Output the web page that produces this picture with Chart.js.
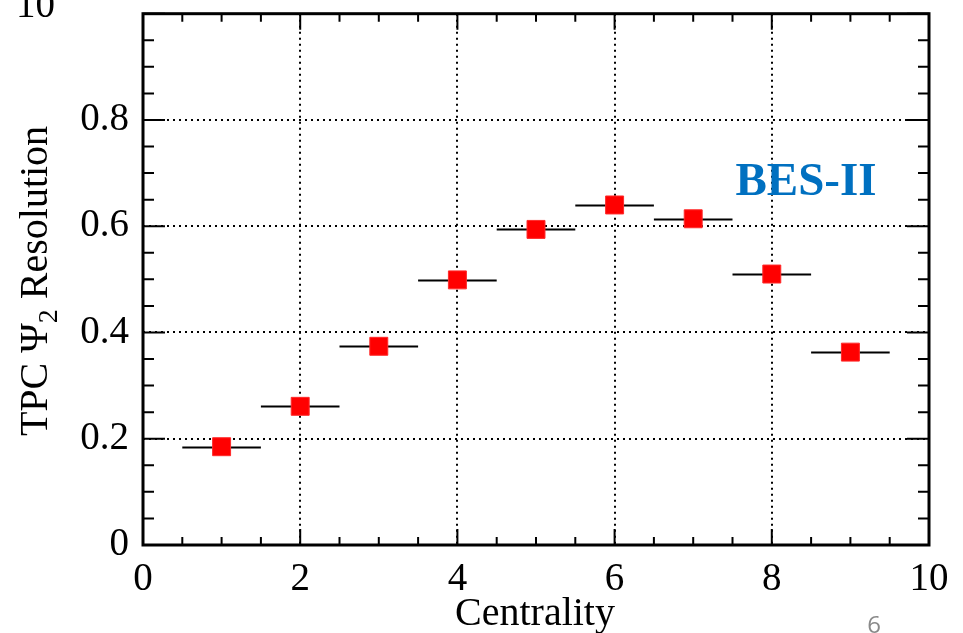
<!DOCTYPE html>
<html>
<head>
<meta charset="utf-8">
<script src="https://cdn.jsdelivr.net/npm/chart.js@4"></script>
<style>
  html, body { margin: 0; padding: 0; background: #fff; }
  #wrap { width: 963px; height: 633px; position: relative; }
</style>
</head>
<body>
<div id="wrap"><canvas id="c" width="963" height="633"></canvas></div>
<script>
// centrality bins and TPC Psi_2 resolution
const centrality = [1, 2, 3, 4, 5, 6, 7, 8, 9];
const resolution = [0.185, 0.261, 0.374, 0.499, 0.594, 0.640, 0.614, 0.510, 0.363];
const binHalfWidth = [0.5, 0.5, 0.5, 0.5, 0.5, 0.5, 0.5, 0.5, 0.5];
const xTicks = [0, 2, 4, 6, 8, 10];
const yTicks = [0, 0.2, 0.4, 0.6, 0.8];

const serif = '"Liberation Serif", "DejaVu Serif", serif';

// ROOT style frame: ticks on all sides, dotted grid, error bars, extra texts
const rootFrame = {
  id: 'rootFrame',
  beforeDatasetsDraw(chart) {
    const { ctx, chartArea: a, scales: { x, y } } = chart;
    ctx.save();
    // dotted grid
    ctx.strokeStyle = '#000';
    ctx.lineWidth = 2;
    ctx.setLineDash([2, 4]);
    ctx.beginPath();
    for (const v of [2, 4, 6, 8]) {
      const px = Math.round(x.getPixelForValue(v));
      ctx.moveTo(px, a.top); ctx.lineTo(px, a.bottom);
    }
    for (const v of [0.2, 0.4, 0.6, 0.8]) {
      const py = Math.round(y.getPixelForValue(v));
      ctx.moveTo(a.left, py); ctx.lineTo(a.right, py);
    }
    ctx.stroke();
    ctx.setLineDash([]);

    // x ticks (bottom and top)
    ctx.lineWidth = 2;
    ctx.beginPath();
    for (let i = 0; i <= 20; i++) {
      const v = i * 0.5;
      const px = x.getPixelForValue(v);
      const len = (i % 4 === 0) ? 16 : 8;
      ctx.moveTo(px, a.bottom); ctx.lineTo(px, a.bottom - len);
      ctx.moveTo(px, a.top); ctx.lineTo(px, a.top + len);
    }
    // y ticks (left and right)
    for (let i = 0; i <= 20; i++) {
      const v = i * 0.05;
      const py = y.getPixelForValue(v);
      const len = (i % 4 === 0) ? 22 : 11;
      ctx.moveTo(a.left, py); ctx.lineTo(a.left + len, py);
      ctx.moveTo(a.right, py); ctx.lineTo(a.right - len, py);
    }
    ctx.stroke();

    // horizontal error bars
    ctx.lineWidth = 2;
    ctx.beginPath();
    centrality.forEach((c, i) => {
      const py = Math.round(y.getPixelForValue(resolution[i])) + 0.5;
      ctx.moveTo(x.getPixelForValue(c - binHalfWidth[i]), py);
      ctx.lineTo(x.getPixelForValue(c + binHalfWidth[i]), py);
    });
    ctx.stroke();

    // frame
    ctx.lineWidth = 3;
    ctx.strokeRect(a.left, a.top, a.right - a.left, a.bottom - a.top);
    ctx.restore();
  },
  afterDraw(chart) {
    const { ctx } = chart;
    ctx.save();
    // cut-off top label
    ctx.fillStyle = '#000';
    ctx.font = '39px ' + serif;
    ctx.textAlign = 'left';
    ctx.textBaseline = 'alphabetic';
    ctx.fillText('10', 16, 17);

    // y axis title with subscript
    ctx.translate(47, 281);
    ctx.rotate(-Math.PI / 2);
    const p1 = 'TPC \u03A8', p2 = ' Resolution';
    ctx.font = '40px ' + serif;
    const w1 = ctx.measureText(p1).width;
    const w3 = ctx.measureText(p2).width;
    ctx.font = '28px ' + serif;
    const w2 = ctx.measureText('2').width;
    const total = w1 + w2 + w3;
    let sx = -total / 2;
    ctx.font = '40px ' + serif;
    ctx.fillText(p1, sx, 0);
    sx += w1;
    ctx.font = '28px ' + serif;
    ctx.fillText('2', sx, 10);
    sx += w2;
    ctx.font = '40px ' + serif;
    ctx.fillText(p2, sx, 0);
    ctx.restore();

    ctx.save();
    // x axis title
    ctx.fillStyle = '#000';
    ctx.font = '40px ' + serif;
    ctx.textAlign = 'center';
    ctx.textBaseline = 'alphabetic';
    ctx.fillText('Centrality', 535, 625);

    // BES-II label
    ctx.fillStyle = '#0070C0';
    ctx.font = 'bold 47px ' + serif;
    ctx.fillText('BES-II', 806, 195);

    // slide page number
    ctx.fillStyle = '#8a8a8a';
    ctx.font = '24px "Open Sans", "Liberation Sans", sans-serif';
    ctx.fillText('6', 874, 633);
    ctx.restore();
  }
};

const noPad = s => { s.paddingTop = 0; s.paddingBottom = 0; s.paddingLeft = 0; s.paddingRight = 0; };

new Chart(document.getElementById('c'), {
  type: 'scatter',
  data: {
    datasets: [{
      data: centrality.map((c, i) => ({ x: c, y: resolution[i] })),
      pointStyle: 'rect',
      pointRadius: 12.7,
      pointHoverRadius: 12.7,
      backgroundColor: '#ff0000',
      borderColor: '#ff2a2a',
      borderWidth: 1
    }]
  },
  options: {
    responsive: false,
    animation: false,
    devicePixelRatio: 1,
    layout: { padding: { left: 0, top: 10, right: 34, bottom: 0 } },
    plugins: { legend: { display: false }, tooltip: { enabled: false } },
    scales: {
      x: {
        type: 'linear', min: 0, max: 10,
        afterBuildTicks: s => { s.ticks = xTicks.map(v => ({ value: v })); },
        afterFit: s => { s.height = 88; noPad(s); },
        grid: { display: false, drawTicks: false },
        border: { display: false },
        ticks: { color: '#000', font: { family: serif, size: 39 }, padding: 11, maxRotation: 0 }
      },
      y: {
        type: 'linear', min: 0, max: 1,
        afterBuildTicks: s => { s.ticks = yTicks.map(v => ({ value: v })); },
        afterFit: s => { s.width = 143; noPad(s); },
        grid: { display: false, drawTicks: false },
        border: { display: false },
        ticks: {
          color: '#000', font: { family: serif, size: 39 }, padding: 14,
          callback: v => v === 0 ? '0' : v.toFixed(1)
        }
      }
    }
  },
  plugins: [rootFrame]
});
</script>
</body>
</html>
